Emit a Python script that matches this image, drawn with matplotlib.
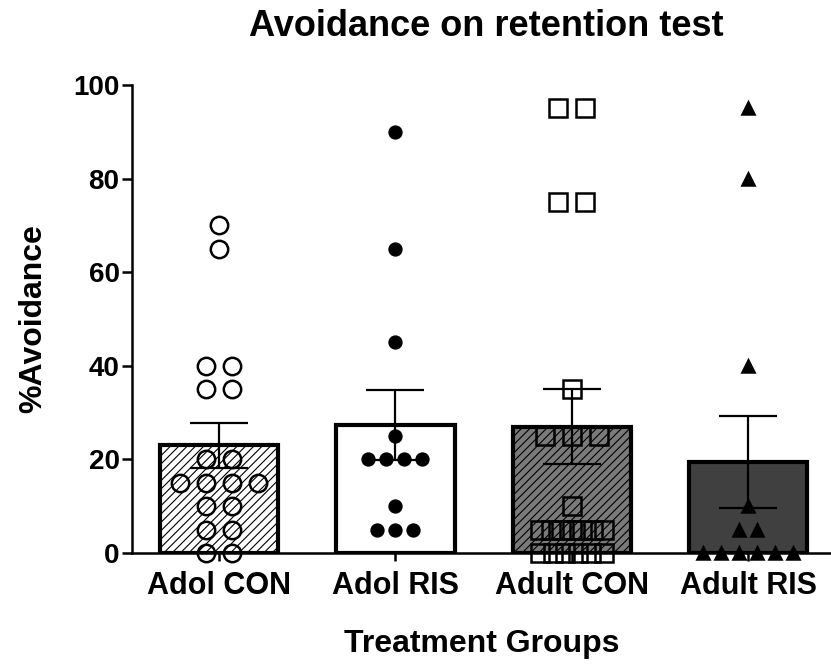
import numpy as np
import matplotlib.pyplot as plt

plt.rcParams['font.family'] = ['Liberation Sans', 'DejaVu Sans']
plt.rcParams['font.weight'] = 'bold'
plt.rcParams['hatch.linewidth'] = 0.8

groups = ["Adol CON", "Adol RIS", "Adult CON", "Adult RIS"]

# individual animals (% avoidance)
adol_con = [70, 65, 40, 40, 35, 35, 20, 20, 15, 15, 15, 15, 10, 10, 5, 5, 0, 0]
adol_ris = [90, 65, 45, 25, 20, 20, 20, 20, 10, 5, 5, 5]
adult_con = [95, 95, 75, 75, 35, 25, 25, 25, 10, 5, 5, 5, 5, 5, 5, 5, 0, 0, 0, 0, 0, 0]
adult_ris = [95, 80, 40, 10, 5, 5, 0, 0, 0, 0, 0, 0]

# bar height (mean) and SEM as drawn
means = [23.0, 27.4, 27.0, 19.4]
sems = [4.8, 7.5, 8.0, 9.8]

points = [adol_con, adol_ris, adult_con, adult_ris]

fig = plt.figure(figsize=(8.31, 6.68), dpi=100)
ax = fig.add_axes([132 / 831, 1 - 553 / 668, 1 - 132 / 831, (553 - 85) / 668])

x = np.arange(len(groups))
faces = ["white", "white", "#7a7a7a", "#404040"]
hatches = ["////", None, "////", None]
for i in range(len(groups)):
    ax.bar(x[i], means[i], width=0.67, color=faces[i], edgecolor="black",
           linewidth=3, hatch=hatches[i], zorder=1)
ax.errorbar(x, means, yerr=sems, fmt="none", ecolor="black", elinewidth=1.6,
            capsize=21, capthick=1.6, zorder=2)


def row_offsets(vals, step, maxspan):
    # spread identical values symmetrically around the group centre
    vals = np.array(vals, dtype=float)
    offs = np.zeros(len(vals))
    for v in np.unique(vals):
        idx = np.where(vals == v)[0]
        n = len(idx)
        if n > 1:
            s = min(step, maxspan / (n - 1))
            offs[idx] = (np.arange(n) - (n - 1) / 2) * s
    return offs


markers = ["o", "o", "s", "^"]
msizes = [12.5, 8.5, 12.5, 9]
mfaces = ["none", "black", "none", "black"]
steps = [0.147, 0.102, 0.153, 0.102]
spans = [0.55, 0.55, 0.36, 0.55]
for i, vals in enumerate(points):
    offs = row_offsets(vals, steps[i], spans[i])
    ax.plot(x[i] + offs, vals, linestyle="none", marker=markers[i],
            ms=msizes[i], mfc=mfaces[i], mec="black", mew=1.8,
            clip_on=False, zorder=3)

ax.set_xlim(-0.494, 3.47)
ax.set_ylim(0, 100)
ax.set_yticks([0, 20, 40, 60, 80, 100])
ax.set_xticks(x)
ax.set_xticklabels(groups, fontsize=22, fontweight="bold")
ax.tick_params(axis="y", labelsize=20, width=1.8, length=7, pad=2)
ax.tick_params(axis="x", width=1.8, length=6, pad=7)
for lab in ax.get_yticklabels():
    lab.set_fontweight("bold")
ax.spines["top"].set_visible(False)
ax.spines["right"].set_visible(False)
ax.spines["left"].set_linewidth(1.8)
ax.spines["bottom"].set_linewidth(1.8)

ax.set_ylabel("%Avoidance", fontsize=23, fontweight="bold", labelpad=18)
ax.set_xlabel("Treatment Groups", fontsize=23, fontweight="bold", labelpad=20)
fig.text(0.5 + 0.085, 1 - 27 / 668, "Avoidance on retention test", fontsize=26,
         fontweight="bold", ha="center", va="center")

fig.savefig("out.png", dpi=100)
